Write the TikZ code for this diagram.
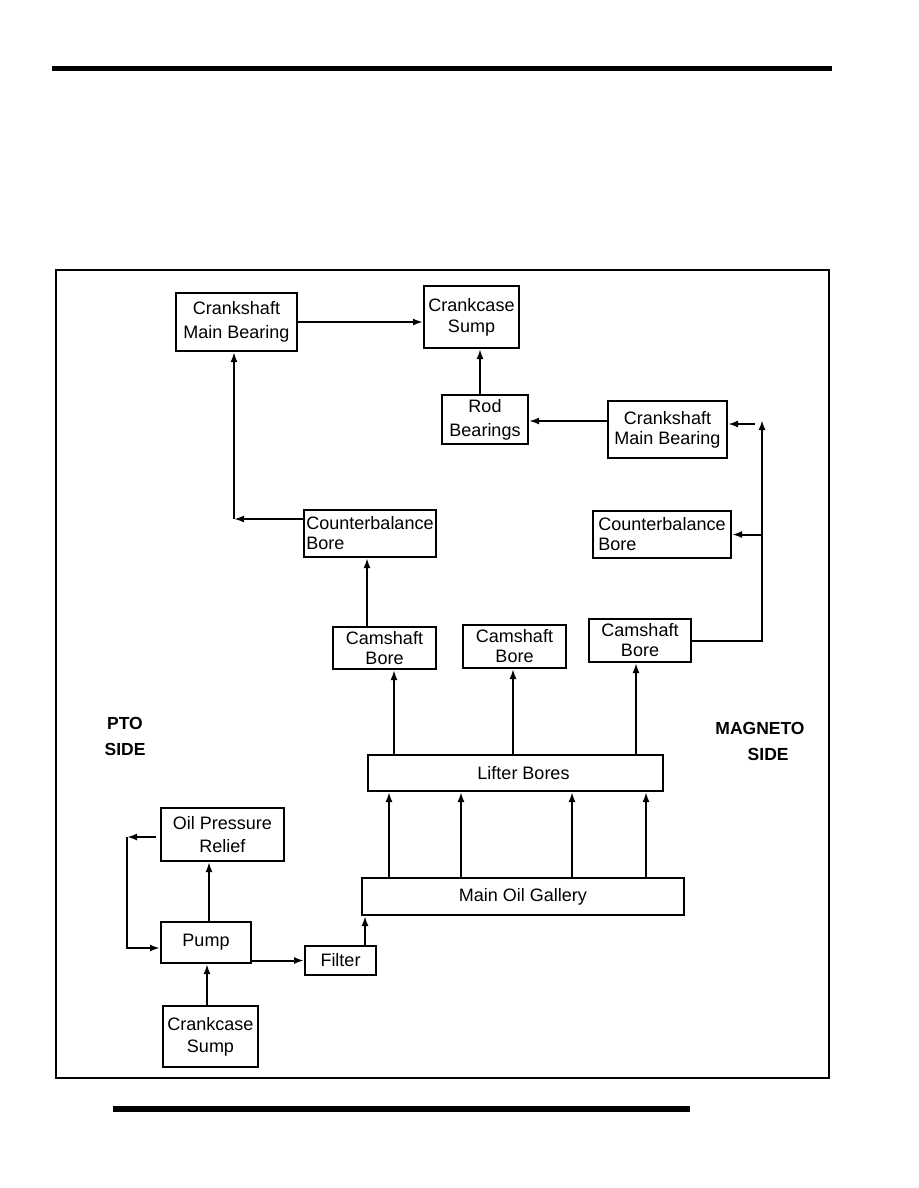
\documentclass[tikz,border=0pt]{standalone}
\usepackage{fontspec}
\setmainfont{Liberation Sans}
\usetikzlibrary{arrows.meta}
\begin{document}
\begin{tikzpicture}[x=1pt,y=-1pt,
  box/.style={draw, line width=2pt, rectangle, inner sep=0pt, align=center,
    font=\fontsize{18}{22}\selectfont},
  lbox/.style={box, align=left},
  arr/.style={line width=2pt, -{Latex[length=10pt,width=7pt]}},
  side/.style={font=\fontsize{17.5}{26}\selectfont\bfseries, align=center, inner sep=0pt}]
\useasboundingbox (0,0) rectangle (918,1188);
% bars and frame
\fill[black] (52,66) rectangle (832,71);
\fill[black] (113,1106) rectangle (690,1112);
\draw[line width=2.2pt] (56,270) rectangle (829,1078);
% boxes
\node[box, font=\fontsize{18}{24}\selectfont, minimum width=121pt, minimum height=58pt] (cmbL) at (236.5,322) {Crankshaft\\Main Bearing};
\node[box, font=\fontsize{18}{21}\selectfont, minimum width=95pt, minimum height=62pt] (csT) at (471.5,317) {Crankcase\\Sump};
\node[box, font=\fontsize{18}{24}\selectfont, minimum width=86pt, minimum height=49pt] (rb) at (485,419.5) {Rod\\Bearings};
\node[lbox, font=\fontsize{18}{20}\selectfont, minimum width=132pt, minimum height=47pt] (cbL) at (370,533.5) {Counterbalance\\Bore};
\node[box, font=\fontsize{18}{20}\selectfont, minimum width=119pt, minimum height=57pt] (cmbR) at (667.5,429.5) {Crankshaft\\Main Bearing};
\node[lbox, font=\fontsize{18}{20}\selectfont, minimum width=138pt, minimum height=47pt] (cbR) at (662,534.5) {Counterbalance\\Bore};
\node[box, font=\fontsize{18}{20}\selectfont, minimum width=102pt, minimum height=43pt] (camR) at (640,640.5) {Camshaft\\Bore};
\node[box, font=\fontsize{18}{20}\selectfont, minimum width=103pt, minimum height=43pt] (camM) at (514.5,646.5) {Camshaft\\Bore};
\node[box, font=\fontsize{18}{20}\selectfont, minimum width=103pt, minimum height=42pt] (camL) at (384.5,648) {Camshaft\\Bore};
\node[box, minimum width=295pt, minimum height=36pt] (lb) at (515.5,773) {\hspace*{16pt}Lifter Bores};
\node[box, minimum width=322pt, minimum height=37pt] (mog) at (523,896.5) {Main Oil Gallery};
\node[box, font=\fontsize{18}{23}\selectfont, minimum width=123pt, minimum height=53pt] (opr) at (222.5,834.5) {Oil Pressure\\Relief};
\node[box, minimum width=90pt, minimum height=41pt] (pump) at (206,942.5) {Pump};
\node[box, minimum width=71pt, minimum height=29pt] (filter) at (340.5,960.5) {Filter};
\node[box, minimum width=95pt, minimum height=61pt] (csB) at (210.5,1036.5) {Crankcase\\Sump};
% side labels
\node[side] (pto) at (125,736) {PTO\\SIDE};
\node[side, align=right] (mag) at (760,741) {MAGNETO\\SIDE\hspace*{16pt}};
% connectors top
\draw[arr] (cmbL.east) -- (cmbL.east -| csT.west);
\draw[arr] ([xshift=-5pt]rb.north) -- ([xshift=-5pt]rb.north |- csT.south);
\draw[arr] ([yshift=8.5pt]cmbR.west) -- ([yshift=8.5pt]cmbR.west -| rb.east);
\coordinate (c1) at (234,519);
\draw[arr] ([yshift=14.5pt]cbL.west) -- (c1);
\draw[arr] (c1) -- (c1 |- cmbL.south);
\draw[arr] ([xshift=-17.5pt]camL.north) -- ([xshift=-17.5pt]camL.north |- cbL.south);
% right side riser
\coordinate (r1) at (762,640.5);
\coordinate (r2) at (762,420);
\coordinate (r3) at (755,424);
\draw[arr] (camR.east) -- (r1) -- (r2);
\draw[arr] (r3) -- (r3 -| cmbR.east);
\draw[arr] (r1 |- cbR.east) -- (cbR.east);
% lifter bores to camshaft bores
\draw[arr] ([xshift=-121.5pt]lb.north) -- ([xshift=-121.5pt]lb.north |- camL.south);
\draw[arr] ([xshift=-2.5pt]lb.north) -- ([xshift=-2.5pt]lb.north |- camM.south);
\draw[arr] ([xshift=120.5pt]lb.north) -- ([xshift=120.5pt]lb.north |- camR.south);
% gallery to lifter bores
\draw[arr] ([xshift=-134pt]mog.north) -- ([xshift=-134pt]mog.north |- lb.south);
\draw[arr] ([xshift=-62pt]mog.north) -- ([xshift=-62pt]mog.north |- lb.south);
\draw[arr] ([xshift=49pt]mog.north) -- ([xshift=49pt]mog.north |- lb.south);
\draw[arr] ([xshift=123pt]mog.north) -- ([xshift=123pt]mog.north |- lb.south);
% filter to gallery
\draw[arr] ([xshift=24.5pt]filter.north) -- ([xshift=24.5pt]filter.north |- mog.south);
% pump
\draw[arr] (pump.east |- filter.west) -- (filter.west);
\draw[arr] ([xshift=3pt]pump.north) -- ([xshift=3pt]pump.north |- opr.south);
\draw[arr] ([xshift=-3.5pt]csB.north) -- ([xshift=-3.5pt]csB.north |- pump.south);
\coordinate (l1) at (127,837);
\coordinate (l2) at (127,948);
\draw[arr] ([xshift=-4pt,yshift=-2.5pt]opr.west) -- (l1);
\draw[arr] (l1) -- (l2) -- (l2 -| pump.west);
\end{tikzpicture}
\end{document}
